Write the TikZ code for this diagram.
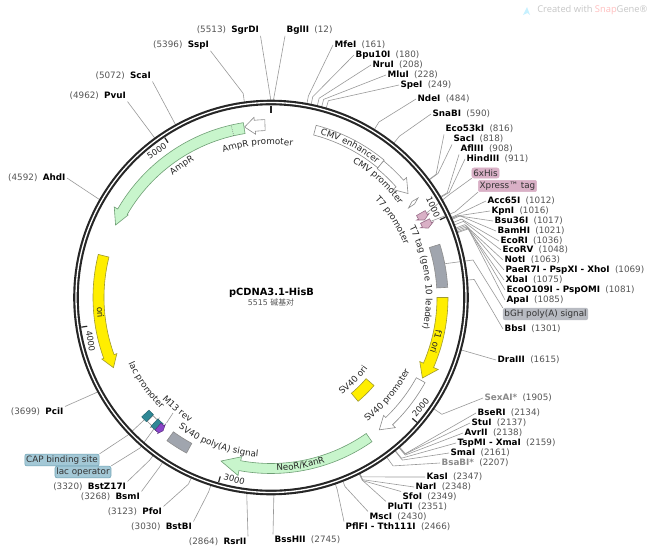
\documentclass[tikz,border=0pt]{standalone}
\usepackage{fontspec}
\usetikzlibrary{decorations.text}
\setmainfont{DejaVu Sans}
\newfontfamily\cjk{Noto Sans CJK SC}
\newfontfamily\wm{Open Sans}
\definecolor{numc}{HTML}{555555}
\definecolor{greyn}{HTML}{8A8A8A}
\definecolor{leadc}{HTML}{999999}
\definecolor{grn}{HTML}{C8F5CC}
\definecolor{grnd}{HTML}{6F9F75}
\definecolor{yel}{HTML}{FFEE00}
\definecolor{yeld}{HTML}{A09A30}
\definecolor{gry}{HTML}{A0A5AE}
\definecolor{pnk}{HTML}{D9B0C6}
\definecolor{pnkd}{HTML}{9A6F8A}
\definecolor{blu}{HTML}{A3C8D6}
\definecolor{blud}{HTML}{6FA3B5}
\definecolor{tea}{HTML}{2F8896}
\definecolor{pur}{HTML}{8A45C8}
\newcommand\ftf{\fontsize{6.6pt}{7.5pt}\selectfont}
\newcommand\coordat[3]{\coordinate (#1) at ({271+(#3)*sin(#2)},{297.5-(#3)*cos(#2)});}
\newcommand\bpa[1]{(#1)*0.0652765}
\tikzset{
 lab/.style={font=\ftf,inner sep=1pt,text=black},
 leader/.style={draw=leadc,line width=0.45pt},
 tickl/.style={font=\fontsize{6.3pt}{7.5pt}\selectfont,inner sep=0pt,text=black!85},
 fwhite/.style={draw=black!45,fill=white,line width=0.45pt},
 fgreen/.style={draw=grnd,fill=grn,line width=0.45pt},
 fyellow/.style={draw=yeld,fill=yel,line width=0.45pt},
 fgray/.style={draw=black!45,fill=gry,line width=0.45pt},
 fpink/.style={draw=pnkd,fill=pnk,line width=0.45pt},
 fteal/.style={draw=tea!70!black,fill=tea,line width=0.3pt},
 fpurple/.style={draw=pur!60!black,fill=pur,line width=0.3pt},
 pbox/.style={font=\ftf,rounded corners=1.5pt,inner xsep=1pt,inner ysep=1.2pt,fill=pnk,draw=pnk,text=black!80},
 bbox/.style={font=\ftf,rounded corners=1.5pt,inner xsep=1pt,inner ysep=1.2pt,fill=blu,draw=blud,text=black!80},
 gbox/.style={font=\ftf,rounded corners=1.5pt,inner xsep=1pt,inner ysep=1.2pt,fill=gry!75,draw=gry!75,text=black!80},
}
\newcommand\siteR[7]{\node[lab,anchor=west] (#1) at (#4,#5) {\textbf{#2}\hspace{0.6em}\textcolor{numc}{(#3)}};
 \coordat{#1r}{\bpa{#3}}{197}
 \coordat{#1k}{\bpa{#3}}{#6}
 \draw[leader] (#1r) -- (#1k) -- (#1.#7);}
\newcommand\siteL[7]{\node[lab,anchor=east] (#1) at (#4,#5) {\textcolor{numc}{(#3)}\hspace{0.6em}\textbf{#2}};
 \coordat{#1r}{\bpa{#3}}{197}
 \coordat{#1k}{\bpa{#3}}{#6}
 \draw[leader] (#1r) -- (#1k) -- (#1.#7);}
\newcommand\band[5]{\draw[#5] plot[domain=#1:#2,samples=24,variable=\t] ({271+(#4)*sin(\t)},{297.5-(#4)*cos(\t)}) -- plot[domain=#2:#1,samples=24,variable=\t] ({271+(#3)*sin(\t)},{297.5-(#3)*cos(\t)}) -- cycle;}
% a1 abase atip r1 r2 hr1 hr2 style
\newcommand\farrow[8]{\coordat{fo}{#2}{#7}\coordat{ft}{#3}{(#5+#4)/2}\coordat{fi}{#2}{#6}
\draw[#8] plot[domain=#1:#2,samples=30,variable=\t] ({271+(#5)*sin(\t)},{297.5-(#5)*cos(\t)}) -- (fo) -- (ft) -- (fi) -- plot[domain=#2:#1,samples=30,variable=\t] ({271+(#4)*sin(\t)},{297.5-(#4)*cos(\t)}) -- cycle;}
\newcommand\arct[4]{\path[decorate,decoration={text along path,text={|\ftf\color{black!85}|#1},text align=center}] plot[domain=#2:#3,samples=50,variable=\t] ({271+(#4)*sin(\t)},{297.5-(#4)*cos(\t)});}
\begin{document}
\begin{tikzpicture}[x=0.75pt,y=-0.75pt]
\fill[white] (0,0) rectangle (649,553);
\useasboundingbox (0,0) rectangle (649,553);
% right side sites
\siteR{bgl}{BglII}{12}{285}{30}{199}{south west}
\siteR{mfe}{MfeI}{161}{333}{45}{205}{west}
\siteR{bpu}{Bpu10I}{180}{354}{55}{205}{west}
\siteR{nru}{NruI}{208}{371}{65}{205}{west}
\siteR{mlu}{MluI}{228}{386}{75}{205}{west}
\siteR{spe}{SpeI}{249}{399}{85}{205}{west}
\siteR{nde}{NdeI}{484}{416}{99}{206}{west}
\siteR{sna}{SnaBI}{590}{431}{114}{206}{west}
\siteR{ecof}{Eco53kI}{816}{444}{129}{206}{south west}
\siteR{sac}{SacI}{818}{452}{139}{208}{south west}
\siteR{afl}{AflIII}{908}{459}{149}{205}{south west}
\siteR{hin}{HindIII}{911}{465}{159}{207}{west}
\siteR{acc}{Acc65I}{1012}{486}{201}{201}{west}
\siteR{kpn}{KpnI}{1016}{490}{211}{203}{west}
\siteR{bsu}{Bsu36I}{1017}{493}{221}{204}{west}
\siteR{bam}{BamHI}{1021}{496}{231}{206}{west}
\siteR{ecor}{EcoRI}{1036}{499}{241}{206}{west}
\siteR{ecov}{EcoRV}{1048}{501}{250}{207}{west}
\siteR{not}{NotI}{1063}{503}{260}{207}{west}
\siteR{pae}{PaeR7I - PspXI - XhoI}{1069}{504}{270}{208}{west}
\siteR{xba}{XbaI}{1075}{504}{280}{208}{west}
\siteR{ecoo}{EcoO109I - PspOMI}{1081}{505}{290}{209}{west}
\siteR{apa}{ApaI}{1085}{505}{300}{209}{west}
\siteR{bbs}{BbsI}{1301}{503}{329}{204}{west}
\siteR{dra}{DraIII}{1615}{496}{360}{200}{west}
\siteR{sex}{\textcolor{greyn}{SexAI*}}{1905}{483}{398}{207}{west}
\siteR{bse}{BseRI}{2134}{476}{413}{206}{west}
\siteR{stu}{StuI}{2137}{470}{423}{206}{west}
\siteR{avr}{AvrII}{2138}{463}{433}{207}{west}
\siteR{tsp}{TspMI - XmaI}{2159}{456}{443}{207}{west}
\siteR{sma}{SmaI}{2161}{449}{453}{209}{west}
\siteR{bsa}{\textcolor{greyn}{BsaBI*}}{2207}{440}{463}{208}{west}
\siteR{kas}{KasI}{2347}{425}{477}{201}{west}
\siteR{nar}{NarI}{2348}{414}{487}{204}{west}
\siteR{sfo}{SfoI}{2349}{401}{497}{205}{north west}
\siteR{plu}{PluTI}{2351}{386}{507}{204}{north west}
\siteR{msc}{MscI}{2430}{368}{517}{203}{north west}
\siteR{pfl}{PflFI - Tth111I}{2466}{344}{527}{203}{north west}
\siteR{bss}{BssHII}{2745}{273}{540}{199}{north west}
% left side sites
\siteL{rsr}{RsrII}{2864}{248}{542}{200}{north east}
\siteL{bst}{BstBI}{3030}{193.5}{527}{204}{north east}
\siteL{pfo}{PfoI}{3123}{163.5}{512}{204}{north east}
\siteL{bsm}{BsmI}{3268}{141.5}{497}{203}{north east}
\siteL{bsz}{BstZ17I}{3320}{127.5}{487}{203}{north east}
\siteL{pci}{PciI}{3699}{65}{412}{200}{north east}
\siteL{ahd}{AhdI}{4592}{67}{178}{199}{east}
\siteL{pvu}{PvuI}{4962}{127.5}{96}{199}{south east}
\siteL{sca}{ScaI}{5072}{152.5}{76}{199}{south east}
\siteL{ssp}{SspI}{5396}{210.5}{45}{206}{south east}
\siteL{sgr}{SgrDI}{5513}{260.5}{30}{199}{south east}
% feature label boxes and their leaders
\node[pbox] (his) at (485.5,173) {6xHis};
\node[pbox] (xpr) at (507.5,186) {Xpress™ tag};
\node[gbox] (bgh) at (545.5,314) {bGH poly(A) signal};
\node[bbox] (cap) at (62,460) {CAP binding site};
\node[bbox] (lco) at (83,472) {lac operator};
\coordinate (hisk) at (450,194);
\coordat{hisf}{61.5}{177}
\coordinate (xprk) at (455,212);
\coordat{xprf}{64.5}{177}
\coordinate (bghk) at (473,260);
\coordat{bghf}{79}{177}
\coordinate (capk) at (128,435);
\coordat{capf}{226}{176}
\coordinate (lcok) at (140,448);
\coordat{lcof}{221.7}{176}
\draw[leader] (his.south west) -- (hisk) -- (hisf);
\draw[leader] (xpr.south west) -- (xprk) -- (xprf);
\draw[leader] (bgh.north west) -- (bghk) -- (bghf);
\draw[leader] (cap.north east) -- (capk) -- (capf);
\draw[leader] (lco.north east) -- (lcok) -- (lcof);
% plasmid ring
\draw[black!85,line width=4.2pt] (271,297.5) circle[radius=195];
\draw[white,line width=1pt] (271,297.5) circle[radius=195];
% ticks
\foreach \b/\n in {1000/t1,2000/t2,3000/t3,4000/t4,5000/t5}{
 \coordat{\n a}{\bpa{\b}}{192}
 \coordat{\n b}{\bpa{\b}}{186}
 \draw[black!85,line width=0.9pt] (\n a) -- (\n b);
}
\coordat{tza}{0}{192}
\coordat{tzb}{0}{184.5}
\draw[black!85,line width=1.2pt] (tza) -- (tzb);
\coordat{p1}{64.3}{185}
\coordat{p5}{325.4}{185}
\coordat{p2}{129.6}{185}
\coordat{p3}{194.8}{185}
\coordat{p4}{259.8}{185}
\node[tickl,anchor=east,rotate=-65.3] (l1) at (p1) {1000};
\node[tickl,anchor=east,rotate=33.6] (l5) at (p5) {5000};
\node[tickl,anchor=west,rotate=49.4] (l2) at (p2) {2000};
\node[tickl,anchor=west,rotate=-15.8] (l3) at (p3) {3000};
\node[tickl,anchor=west,rotate=-81] (l4) at (p4) {4000};
% features
\band{14.7}{39.5}{168}{178}{fwhite}
\farrow{39.5}{48.5}{52.8}{167}{177}{163}{181}{fwhite}
\draw[fwhite] (418,198) -- (414.5,204) -- (408.5,208) -- (412,201.5) -- cycle;
\farrow{60.6}{62}{63.2}{167}{177}{165}{179}{fpink}
\farrow{63.6}{65}{66.2}{167}{177}{165}{179}{fpink}
\band{72.5}{86.7}{166}{177}{fgray}
\farrow{90}{113.3}{118}{166}{177}{162}{182}{fyellow}
\farrow{118.9}{136.3}{140.7}{166}{176}{163}{180}{fwhite}
\band{130.5}{140}{125}{135.5}{fyellow}
\farrow{145}{190.5}{197}{166}{176}{162}{181}{fgreen}
\band{208.5}{216}{166}{177}{fgray}
\farrow{225}{222.8}{221.8}{167}{175}{165}{177}{fwhite}
\band{225.1}{227.3}{166}{176}{fteal}
\band{220.4}{223}{166}{176}{fteal}
\farrow{221.2}{219.8}{219}{167}{176}{165}{177}{fpurple}
\farrow{284}{250}{246}{167}{178}{164}{180}{fyellow}
\farrow{351}{300}{295}{166}{177}{165}{181}{fgreen}
\coordat{da}{347}{166}
\coordat{db}{347}{177}
\draw[black!60,line width=0.45pt,densely dotted] (da) -- (db);
\farrow{358}{354.6}{351.2}{167}{178}{164}{181}{fwhite}
\coordinate (m13a) at (173,413);
\coordinate (m13b) at (166.5,423);
\draw[leader] (m13a) -- (m13b);
% feature texts
\arct{CMV enhancer}{5}{50}{170.5}
\arct{CMV promoter}{15}{70}{158}
\arct{T7 promoter}{30}{85}{143}
\arct{T7 tag (gene 10 leader)}{45}{120}{155}
\arct{f1 ori}{85}{125}{168}
\arct{SV40 promoter}{160}{100}{157}
\arct{SV40 ori}{160}{110}{120}
\arct{NeoR/KanR}{195}{145}{173.5}
\arct{SV40 poly(A) signal}{235}{165}{160}
\arct{M13 rev}{245}{195}{149}
\arct{lac promoter}{265}{205}{157}
\arct{ori}{290}{240}{174.5}
\arct{AmpR}{296}{356}{157}
\arct{AmpR promoter}{325}{385}{153}
% centre
\node[font=\fontsize{7.4pt}{9pt}\selectfont\bfseries,inner sep=0pt] (title) at (271.5,293) {pCDNA3.1-HisB};
\node[font=\fontsize{5.9pt}{7pt}\selectfont,inner sep=0pt,text=numc] (size) at (271,303) {5515 {\cjk 碱基对}};
% watermark
\fill[blue!25!cyan!22!white] (523,15) -- (527,7) -- (530,15) -- (527.5,13) -- cycle;
\node[font=\wm\fontsize{7pt}{9pt}\selectfont,inner sep=0pt,anchor=west,text=black!22] (wmk) at (537,10.5) {Created with \textcolor{red!25}{Snap}Gene®};
\end{tikzpicture}
\end{document}
